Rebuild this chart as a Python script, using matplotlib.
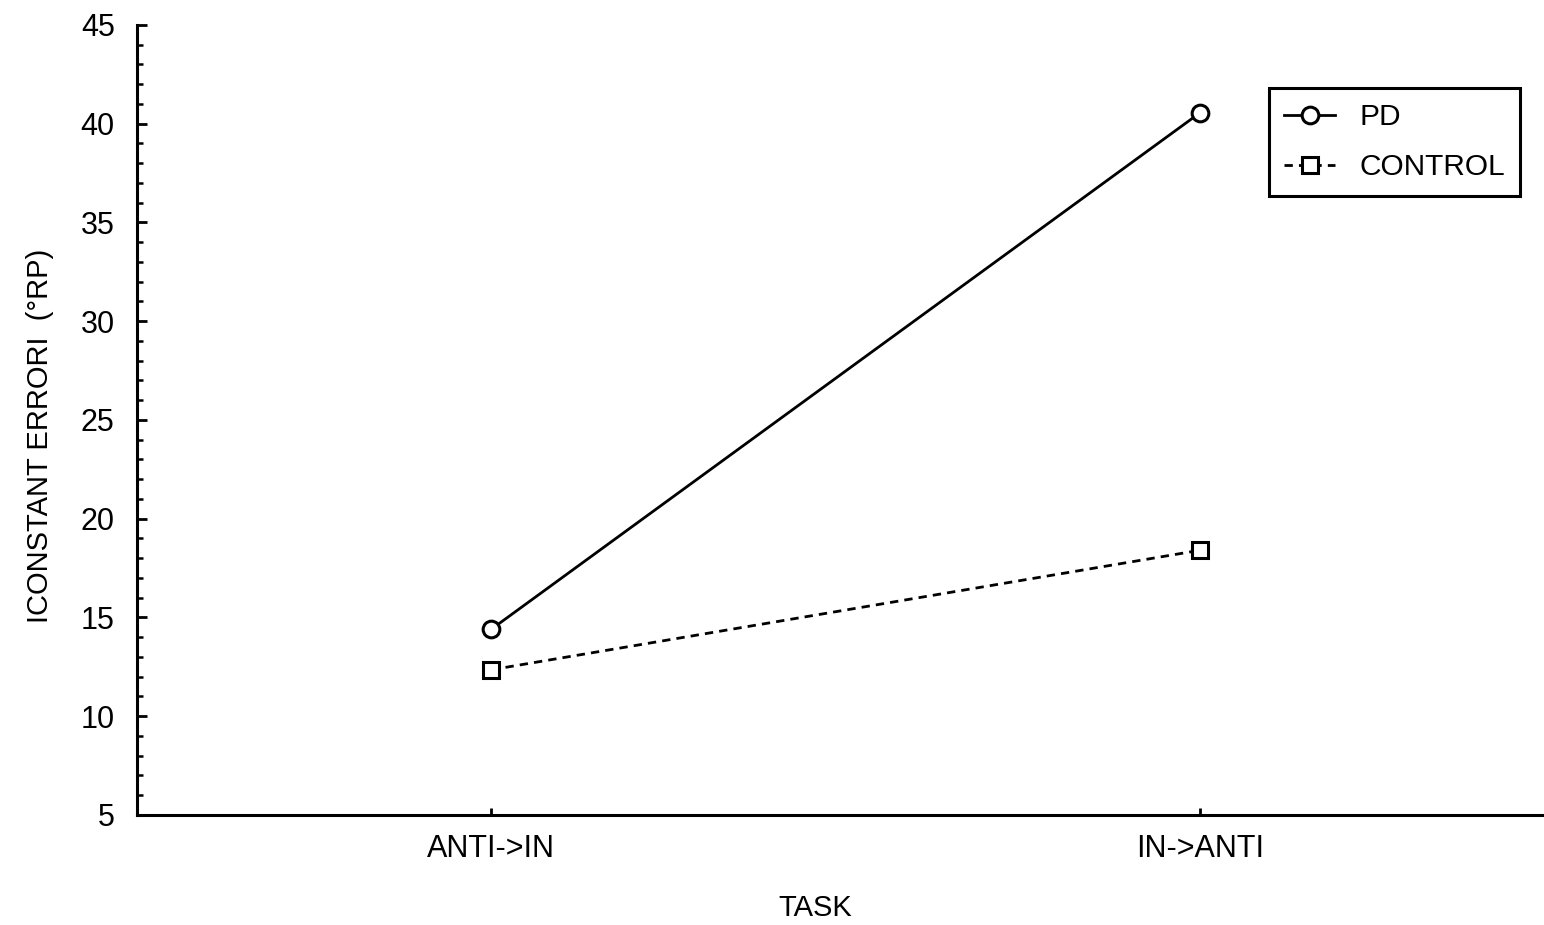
import matplotlib
matplotlib.use('Agg')
import matplotlib.pyplot as plt
from matplotlib.ticker import MultipleLocator

# Datos: error constante por tarea
tareas = ['ANTI->IN', 'IN->ANTI']
pd_vals = [14.4, 40.55]
control_vals = [12.35, 18.4]

plt.rcParams['font.family'] = ['Liberation Sans', 'DejaVu Sans']

fig = plt.figure(figsize=(15.44, 9.25), dpi=100)
ax = fig.add_axes([0.0887, 0.119, 0.911, 0.854])

x = list(range(len(tareas)))
ax.plot(x, pd_vals, color='black', linewidth=2, linestyle='-',
        marker='o', markersize=12, markerfacecolor='white', markeredgewidth=2.2,
        label='PD')
ax.plot(x, control_vals, color='black', linewidth=2, linestyle=(0, (3, 2.2)),
        marker='s', markersize=12, markerfacecolor='white', markeredgewidth=2.2,
        label='CONTROL')

ax.set_xlim(-0.5, 1.485)
ax.set_ylim(5, 45)
ax.set_xticks(x)
ax.set_xticklabels(tareas)
ax.yaxis.set_major_locator(MultipleLocator(5))
ax.yaxis.set_minor_locator(MultipleLocator(1))

for s in ['top', 'right']:
    ax.spines[s].set_visible(False)
for s in ['left', 'bottom']:
    ax.spines[s].set_linewidth(2.2)

ax.tick_params(axis='y', which='major', direction='in', length=7, width=2, labelsize=22, pad=16)
ax.tick_params(axis='y', which='minor', direction='in', length=4, width=1.8)
ax.tick_params(axis='x', which='major', direction='in', length=5, width=2, labelsize=22, pad=14)

ax.set_ylabel('ICONSTANT ERRORI  (°RP)', fontsize=21, va='center')
ax.yaxis.set_label_coords(-0.069, 0.48)
ax.set_xlabel('TASK', fontsize=21, va='center')
ax.xaxis.set_label_coords(0.482, -0.118)

leg = ax.legend(loc='upper right', bbox_to_anchor=(0.983, 0.92), borderaxespad=0,
                fontsize=21.5, frameon=True, fancybox=False, edgecolor='black',
                framealpha=1, handlelength=1.7, handletextpad=0.8, borderpad=0.5,
                labelspacing=0.75, markerscale=1.0)
leg.get_frame().set_linewidth(2.2)

fig.savefig('out.png', dpi=100)
